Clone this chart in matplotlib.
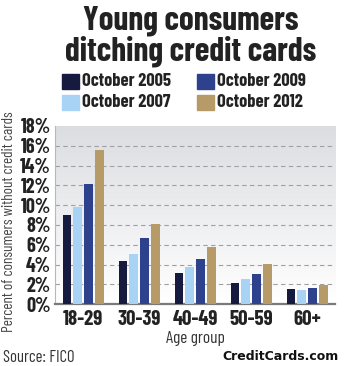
import matplotlib
matplotlib.use("Agg")
import matplotlib.pyplot as plt
import numpy as np

groups = ["18-29", "30-39", "40-49", "50-59", "60+"]
series = ["October 2005", "October 2007", "October 2009", "October 2012"]
v2005 = [9.0, 4.4, 3.1, 2.1, 1.5]
v2007 = [9.8, 5.1, 3.8, 2.5, 1.45]
v2009 = [12.1, 6.7, 4.6, 3.0, 1.6]
v2012 = [15.6, 8.1, 5.8, 4.1, 1.9]
colors = ["#161a3f", "#a9d3f5", "#2e418c", "#b69a67"]

COND = ["Barlow Condensed", "DejaVu Sans"]
plt.rcParams["font.family"] = COND

fig = plt.figure(figsize=(3.44, 3.66), dpi=100)
ax = fig.add_axes([0.160, 0.169, 0.814, 0.487])

# gradient background of the plot area
grad = np.linspace(0, 1, 256).reshape(-1, 1)
bg = matplotlib.colors.LinearSegmentedColormap.from_list("bg", ["#ffffff", "#dcdde1"])
ax.imshow(grad, extent=(-0.5, 4.5, 0, 18), aspect="auto", cmap=bg,
          origin="lower", zorder=0)

x = np.arange(len(groups))
pitch = 0.192
width = 0.155
for i, vals in enumerate([v2005, v2007, v2009, v2012]):
    ax.bar(x + (i - 1.5) * pitch, vals, width, color=colors[i],
           label=series[i], zorder=3)

ax.set_xlim(-0.5, 4.5)
ax.set_ylim(0, 18)
ax.set_yticks(range(0, 19, 2))
ax.set_yticklabels([f"{t}%" for t in range(0, 19, 2)],
                   fontsize=14.5, fontweight="bold", color="#222222")
ax.set_xticks(x)
ax.set_xticklabels(groups, fontsize=15, fontweight="bold", color="#222222")
ax.tick_params(axis="y", length=0, pad=3)
ax.tick_params(axis="x", length=0, pad=4)
for t in range(2, 18, 2):
    ax.axhline(t, color="#a0a0a0", lw=0.8, ls=(0, (4, 3)), zorder=1)
for s in ["top", "right"]:
    ax.spines[s].set_visible(False)
ax.spines["left"].set_color("#b8b8b8")
ax.spines["bottom"].set_color("#7a7a7a")
ax.spines["bottom"].set_linewidth(1.6)

ax.set_xlabel("Age group", fontsize=12.5, labelpad=2, color="#333333")
ax.set_ylabel("Percent of consumers without credit cards", fontsize=11,
              color="#444444")
ax.yaxis.set_label_coords(-0.14, 0.46)

fig.text(0.554, 0.985, "Young consumers\nditching credit cards", ha="center",
         va="top", fontsize=24, fontweight="bold", color="#222222",
         linespacing=1.0)

# legend
leg_pos = [(0.180, 0.757), (0.180, 0.700), (0.573, 0.757), (0.573, 0.700)]
for i, (lx, ly) in enumerate(leg_pos):
    fig.patches.append(plt.Rectangle((lx, ly), 0.050, 0.041, color=colors[i],
                                     transform=fig.transFigure))
    fig.text(lx + 0.058, ly + 0.020, series[i], ha="left", va="center",
             fontsize=13.2, fontweight="bold", color="#222222")

fig.text(0.008, 0.022, "Source: FICO", ha="left", va="center", fontsize=12,
         color="#333333")
fig.text(0.985, 0.025, "CreditCards.com", ha="right", va="center",
         fontsize=9, fontweight="bold", family="DejaVu Sans", color="#111111")

fig.savefig("out.png", dpi=100)
